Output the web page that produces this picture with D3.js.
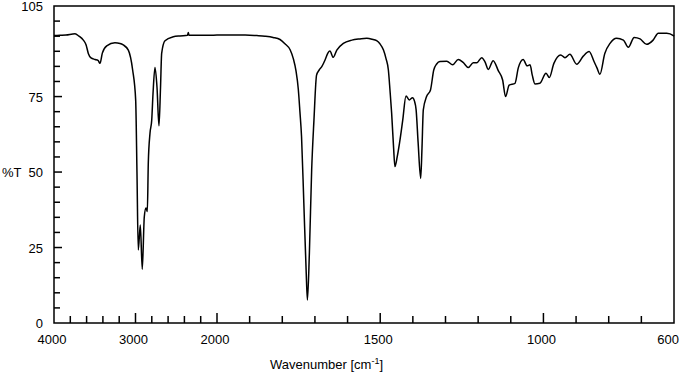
<!DOCTYPE html>
<html>
<head>
<meta charset="utf-8">
<script src="https://cdn.jsdelivr.net/npm/d3@7"></script>
<style>
  body { margin: 0; background: #fff; }
  text { font-family: "Liberation Sans", Arial, sans-serif; font-size: 13px; fill: #000; }
  .line { fill: none; stroke: #000; stroke-width: 1.5px; }
</style>
</head>
<body>
<script>
// spectrum: wavenumber (cm-1) and transmittance (%T)
var wavenumber = [4000, 3926, 3853, 3742, 3693, 3640, 3607, 3579, 3546, 3497, 3460, 3436, 3407, 3353,
    3252, 3190, 3150, 3088, 3035, 2998, 2982, 2966, 2941, 2917, 2892, 2871, 2855, 2843, 2822, 2801,
    2785, 2761, 2736, 2712, 2693, 2679, 2638, 2536, 2454, 2362, 2352, 2344, 2209, 2086, 2000,
    1960, 1914, 1878, 1853, 1828, 1807, 1792, 1776, 1766, 1758, 1751, 1746, 1741, 1734, 1727, 1723,
    1717, 1710, 1703, 1695, 1687, 1679, 1669, 1660, 1654, 1644, 1633, 1613, 1587, 1562, 1541, 1525,
    1511, 1501, 1490, 1482, 1475, 1470, 1465, 1459, 1455, 1448, 1441, 1431, 1421, 1411, 1401, 1395,
    1390, 1384, 1376, 1372, 1368, 1358, 1346, 1336, 1327, 1317, 1296, 1278, 1261, 1246, 1230, 1215,
    1204, 1189, 1179, 1169, 1154, 1138, 1125, 1116, 1105, 1087, 1077, 1062, 1050, 1041, 1034, 1026,
    1011, 992, 982, 968, 947, 934, 919, 898, 878, 860, 845, 836, 827, 812, 796, 776, 755, 740, 722,
    704, 684, 664, 648, 622, 602, 600];
var transmittance = [95.2, 95.3, 95.4, 95.8, 95.0, 93.7, 92.2, 89.3, 87.8, 87.3, 87.0, 86.0, 89.4, 91.8,
    92.8, 92.6, 92.1, 90.4, 83.8, 73.9, 50, 24.2, 32.5, 17.8, 35.2, 38.1, 36.9, 53, 62.9, 67.2,
    76, 84.6, 78, 65.3, 78, 89.3, 93.5, 94.8, 95.1, 95.3, 96.2, 95.3, 95.3, 95.3, 95.4,
    95.4, 95.4, 95.2, 95.0, 94.6, 93.9, 92.5, 90.5, 87.5, 83.5, 77.5, 70, 61.7, 39.7, 17.6, 7.6,
    23.2, 50.7, 67.2, 82.1, 83.8, 84.9, 87.1, 89.5, 90.1, 88.0, 90.4, 92.6, 93.7, 94.1, 94.3, 94.0,
    93.5, 92.5, 90.4, 87.5, 83.8, 77, 69.5, 58, 51.8, 55, 59.5, 67.2, 75.2, 73.9, 74.6, 73.5,
    70.6, 60, 47.9, 58, 70.6, 75, 77.2, 83.8, 85.8, 86.6, 86.7, 85.5, 87.3, 86.3, 84.6, 86.2,
    86.2, 87.9, 86.5, 84.0, 86.9, 83.5, 80.5, 75, 78.8, 79.4, 84.5, 87.3, 85.2, 85.5, 82, 79.2,
    79.4, 82.7, 81.3, 86, 88.8, 87.9, 89, 85.7, 88.4, 89.9, 86.6, 84.5, 82.4, 89.3, 92.6, 94.3, 93.7, 91.3, 94.6,
    94.1, 92.3, 93.7, 96, 96, 95.2, 95.0];

var xTickLabels = [4000, 3000, 2000, 1500, 1000, 600];
var yTickLabels = [0, 25, 50, 75, 105];
var xMinorTicks = d3.range(3800, 2000, -200).concat(d3.range(1900, 600, -100));
var xMajorTicks = [3000, 2000, 1500, 1000];
var yMinorTicks = d3.range(5, 105, 5);
var yMajorTicks = [25, 50, 75];

var width = 682, height = 376;
var plot = {left: 54, right: 674, top: 6, bottom: 323};

// x axis is expanded 4x below 2000 cm-1
var x = d3.scaleLinear().domain([4000, 2000, 600]).range([plot.left, 217, plot.right]);
var y = d3.scaleLinear().domain([0, 105]).range([plot.bottom, plot.top]);

var svg = d3.select("body").append("svg")
    .attr("width", width)
    .attr("height", height);

var data = wavenumber.map(function(w, i) { return {w: w, t: transmittance[i]}; });

var line = d3.line()
    .x(function(d) { return x(d.w); })
    .y(function(d) { return y(d.t); })
    .curve(d3.curveMonotoneX);

svg.append("path")
    .datum(data)
    .attr("class", "line")
    .attr("d", line);

// frame
svg.append("rect")
    .attr("x", plot.left).attr("y", plot.top)
    .attr("width", plot.right - plot.left).attr("height", plot.bottom - plot.top)
    .attr("fill", "none").attr("stroke", "#000").attr("stroke-width", 1.5);

// x ticks, pointing inward
svg.selectAll(".xtick")
    .data(xMinorTicks.filter(function(v) { return xMajorTicks.indexOf(v) < 0; }).concat(xMajorTicks))
    .enter().append("line")
    .attr("x1", function(d) { return x(d); })
    .attr("x2", function(d) { return x(d); })
    .attr("y1", plot.bottom)
    .attr("y2", function(d) { return plot.bottom - (xMajorTicks.indexOf(d) >= 0 ? 10 : 7); })
    .attr("stroke", "#000").attr("stroke-width", 1.5);

// y ticks
svg.selectAll(".ytick")
    .data(yMinorTicks)
    .enter().append("line")
    .attr("x1", plot.left)
    .attr("x2", function(d) { return plot.left + (yMajorTicks.indexOf(d) >= 0 ? 8 : 6); })
    .attr("y1", function(d) { return y(d); })
    .attr("y2", function(d) { return y(d); })
    .attr("stroke", "#000").attr("stroke-width", 1.5);

svg.selectAll(".xlab")
    .data(xTickLabels)
    .enter().append("text")
    .attr("x", function(d) { return d === 600 ? plot.right + 5 : x(d) - 2; })
    .attr("y", 344)
    .style("text-anchor", function(d) { return d === 600 ? "end" : "middle"; })
    .text(function(d) { return d; });

svg.selectAll(".ylab")
    .data(yTickLabels)
    .enter().append("text")
    .attr("x", 43)
    .attr("y", function(d) { return y(d) + 5; })
    .style("text-anchor", "end")
    .text(function(d) { return d; });

svg.append("text")
    .attr("x", 2)
    .attr("y", y(50) + 5)
    .text("%T");

var title = svg.append("text")
    .attr("x", 270)
    .attr("y", 369);
title.append("tspan").text("Wavenumber [cm");
title.append("tspan").attr("dy", -5).style("font-size", "9px").text("-1");
title.append("tspan").attr("dy", 5).text("]");
</script>
</body>
</html>
